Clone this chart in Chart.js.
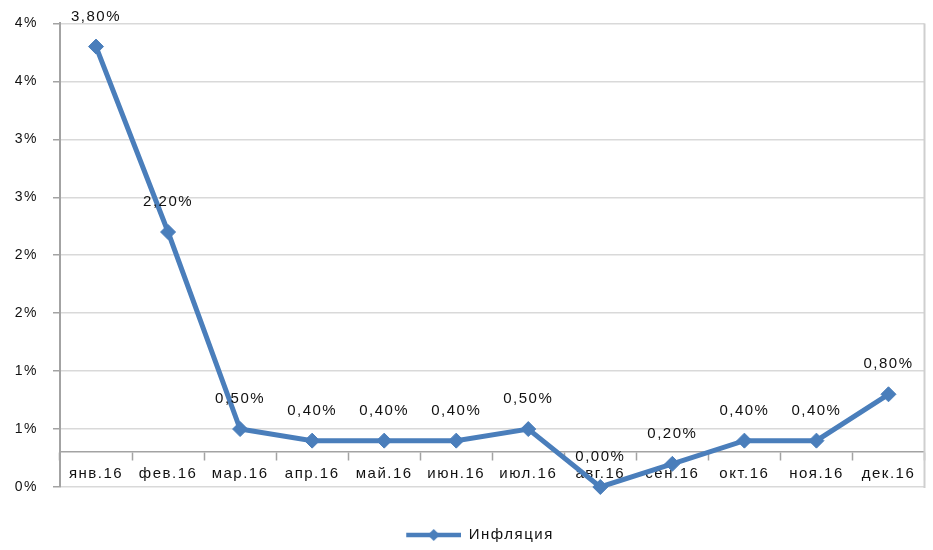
<!DOCTYPE html>
<html lang="ru">
<head>
<meta charset="utf-8">
<title>Инфляция 2016</title>
<script src="https://cdn.jsdelivr.net/npm/chart.js@4.4.1/dist/chart.umd.min.js"></script>
<style>
  html, body { margin: 0; padding: 0; background: #ffffff; }
  #wrap { width: 933px; height: 550px; position: relative; }
</style>
</head>
<body>
<div id="wrap"><canvas id="chart"></canvas></div>
<script>
// Monthly inflation, 2016
const months = ['янв.16', 'фев.16', 'мар.16', 'апр.16', 'май.16', 'июн.16',
                'июл.16', 'авг.16', 'сен.16', 'окт.16', 'ноя.16', 'дек.16'];
const inflation = [3.8, 2.2, 0.5, 0.4, 0.4, 0.4, 0.5, 0.0, 0.2, 0.4, 0.4, 0.8];
const seriesName = 'Инфляция';

// y axis: 0..4 % in half-percent steps, labels rounded to whole percents
const yMin = 0;
const yMax = 4;
const yStep = 0.5;
const xAxisCrossing = 0.3;

const lineColor = '#4a7ebb';
const textColor = '#111111';
const axisColor = '#a3a3a3';
const gridColor = '#d9d9d9';

Chart.defaults.font.family = "'Liberation Sans', Arial, sans-serif";
Chart.defaults.font.size = 15;
Chart.defaults.color = textColor;

const fmtPercent = (v, digits) => v.toFixed(digits).replace('.', ',') + '%';

// legend marker: short line with a diamond, drawn in the right part of the box
const legendMarker = document.createElement('canvas');
legendMarker.width = 86;
legendMarker.height = 16;
(function () {
  const c = legendMarker.getContext('2d');
  c.strokeStyle = lineColor;
  c.lineWidth = 4.5;
  c.beginPath();
  c.moveTo(31, 8);
  c.lineTo(86, 8);
  c.stroke();
  c.fillStyle = lineColor;
  c.beginPath();
  c.moveTo(58.5, 2);
  c.lineTo(64.5, 8);
  c.lineTo(58.5, 14);
  c.lineTo(52.5, 8);
  c.closePath();
  c.fill();
})();

// slightly spaced lettering for all chart text
const letterSpacingPlugin = {
  id: 'letterSpacing',
  beforeUpdate(chart) { chart.ctx.letterSpacing = '1.5px'; },
  beforeLayout(chart) { chart.ctx.letterSpacing = '1.5px'; },
  beforeDraw(chart) { chart.ctx.letterSpacing = '1.5px'; }
};

// right edge of the plot frame
const plotFramePlugin = {
  id: 'plotFrame',
  beforeDatasetsDraw(chart) {
    const { ctx, chartArea } = chart;
    ctx.save();
    ctx.strokeStyle = '#cfcfcf';
    ctx.lineWidth = 2;
    ctx.beginPath();
    ctx.moveTo(chartArea.right, chartArea.top);
    ctx.lineTo(chartArea.right, chartArea.bottom + 1);
    ctx.stroke();
    ctx.restore();
  }
};

// value labels above each point
const valueLabelsPlugin = {
  id: 'valueLabels',
  afterDatasetsDraw(chart) {
    const { ctx } = chart;
    const meta = chart.getDatasetMeta(0);
    const values = chart.data.datasets[0].data;
    ctx.save();
    ctx.font = "15px 'Liberation Sans', Arial, sans-serif";
    ctx.fillStyle = textColor;
    ctx.textAlign = 'center';
    ctx.textBaseline = 'middle';
    meta.data.forEach((pt, i) => {
      ctx.fillText(fmtPercent(values[i], 2), pt.x, pt.y - 30);
    });
    ctx.restore();
  }
};

new Chart(document.getElementById('chart'), {
  type: 'line',
  data: {
    labels: months,
    datasets: [{
      label: seriesName,
      data: inflation,
      borderColor: lineColor,
      backgroundColor: lineColor,
      borderWidth: 5,
      tension: 0,
      pointStyle: 'rectRot',
      pointRadius: 7.5,
      pointHoverRadius: 7.5,
      pointBorderWidth: 1,
      pointBackgroundColor: lineColor,
      pointBorderColor: lineColor,
      clip: false
    }]
  },
  options: {
    responsive: true,
    maintainAspectRatio: false,
    animation: false,
    events: [],
    layout: { padding: { left: 0, right: 4, top: 22, bottom: -2.5 } },
    scales: {
      x: {
        type: 'category',
        position: { y: xAxisCrossing },
        offset: true,
        grid: {
          offset: true,
          drawOnChartArea: false,
          drawTicks: true,
          tickLength: 8,
          tickColor: axisColor,
          tickWidth: 1.5
        },
        border: { display: true, color: axisColor, width: 1.5 },
        ticks: {
          autoSkip: false,
          maxRotation: 0,
          minRotation: 0,
          padding: 5,
          color: textColor
        }
      },
      y: {
        min: yMin,
        max: yMax,
        afterFit(scale) { scale.width = 60; },
        ticks: {
          stepSize: yStep,
          padding: 15,
          color: textColor,
          font: { size: 14 },
          callback: (v) => Math.round(v) + '%'
        },
        grid: {
          color: gridColor,
          lineWidth: 1.5,
          drawTicks: true,
          tickLength: 7,
          tickColor: axisColor
        },
        border: { display: true, color: axisColor, width: 2 }
      }
    },
    plugins: {
      legend: {
        position: 'bottom',
        labels: {
          usePointStyle: true,
          pointStyle: legendMarker,
          pointStyleWidth: 86,
          padding: 40.5,
          color: textColor,
          font: { size: 15 }
        }
      },
      tooltip: { enabled: false }
    }
  },
  plugins: [letterSpacingPlugin, plotFramePlugin, valueLabelsPlugin]
});
</script>
</body>
</html>
